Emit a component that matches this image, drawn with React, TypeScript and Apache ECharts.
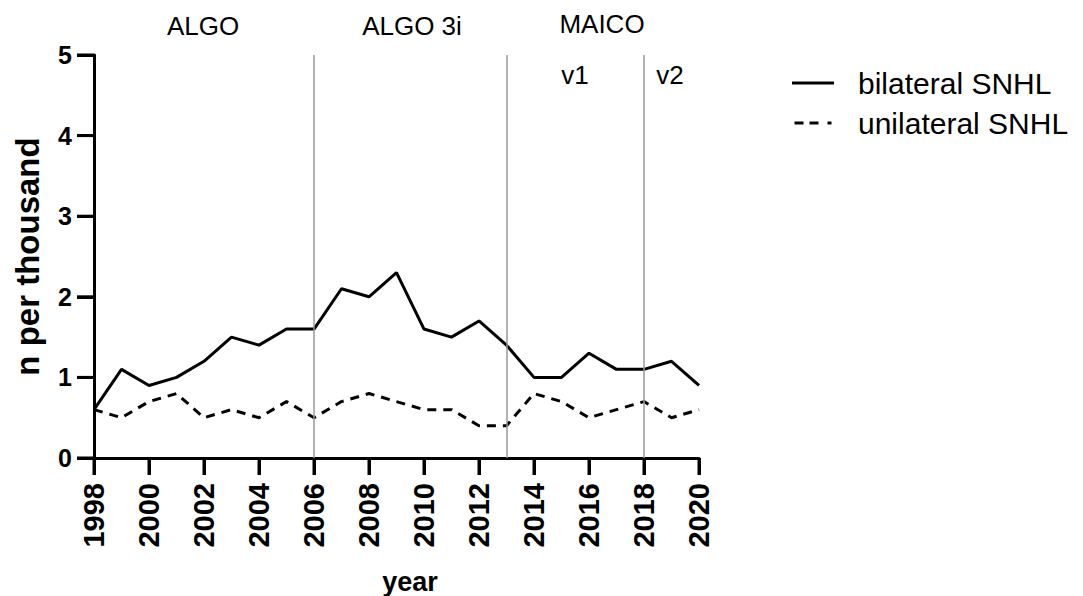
import React, { useEffect, useRef } from "react";
import * as echarts from "echarts";

const years = [1998, 1999, 2000, 2001, 2002, 2003, 2004, 2005, 2006, 2007, 2008, 2009, 2010, 2011, 2012, 2013, 2014, 2015, 2016, 2017, 2018, 2019, 2020];
const bilateral = [0.6, 1.1, 0.9, 1.0, 1.2, 1.5, 1.4, 1.6, 1.6, 2.1, 2.0, 2.3, 1.6, 1.5, 1.7, 1.4, 1.0, 1.0, 1.3, 1.1, 1.1, 1.2, 0.9];
const unilateral = [0.6, 0.5, 0.7, 0.8, 0.5, 0.6, 0.5, 0.7, 0.5, 0.7, 0.8, 0.7, 0.6, 0.6, 0.4, 0.4, 0.8, 0.7, 0.5, 0.6, 0.7, 0.5, 0.6];
const deviceChanges = [2006, 2013, 2018];
const seriesNames = ["bilateral SNHL", "unilateral SNHL"];
const xTicks = [1998, 2000, 2002, 2004, 2006, 2008, 2010, 2012, 2014, 2016, 2018, 2020];
const yTicks = [0, 1, 2, 3, 4, 5];

const FONT = "Liberation Sans, Arial, sans-serif";
const TICK_LEN = 17;

export default function App() {
  const ref = useRef<HTMLDivElement>(null);
  useEffect(() => {
    if (!ref.current) return;
    const chart = echarts.init(ref.current, null, { renderer: "svg" });
    const texts: any[] = [
      { type: "text", x: 203, y: 26, style: { text: "ALGO", fontSize: 26, fill: "#000", fontFamily: FONT, align: "center", verticalAlign: "middle" } },
      { type: "text", x: 412, y: 26, style: { text: "ALGO 3i", fontSize: 26, fill: "#000", fontFamily: FONT, align: "center", verticalAlign: "middle" } },
      { type: "text", x: 602, y: 24, style: { text: "MAICO", fontSize: 26, fill: "#000", fontFamily: FONT, align: "center", verticalAlign: "middle" } },
      { type: "text", x: 575, y: 75, style: { text: "v1", fontSize: 26, fill: "#000", fontFamily: FONT, align: "center", verticalAlign: "middle" } },
      { type: "text", x: 670, y: 75, style: { text: "v2", fontSize: 26, fill: "#000", fontFamily: FONT, align: "center", verticalAlign: "middle" } },
      { type: "text", x: 410, y: 582, style: { text: "year", fontSize: 27, fontWeight: "bold", fill: "#000", fontFamily: FONT, align: "center", verticalAlign: "middle" } },
    ];
    chart.setOption({
      animation: false,
      textStyle: { fontFamily: FONT },
      grid: { left: 94, right: 384, top: 55, bottom: 138, containLabel: false },
      legend: {
        orient: "vertical",
        left: 787,
        top: 63,
        itemWidth: 42,
        itemHeight: 3,
        itemGap: 10,
        data: [
          { name: seriesNames[0], icon: "path://M0,0h42v3h-42z" },
          { name: seriesNames[1], icon: "path://M0,0h9v3h-9zM15,0h9v3h-9zM33,0h4v3h-4z" },
        ],
        itemStyle: { color: "#000", borderWidth: 0 },
        textStyle: { fontSize: 30, lineHeight: 30, color: "#000", fontFamily: FONT, padding: [0, 0, 0, 19] },
      },
      xAxis: {
        type: "value",
        min: 1998,
        max: 2020,
        interval: 2,
        axisLine: { show: true, onZero: false, lineStyle: { color: "#000", width: 3 } },
        axisTick: { show: true, inside: false, length: TICK_LEN, lineStyle: { color: "#000", width: 3 } },
        axisLabel: {
          rotate: 90,
          margin: 25,
          fontSize: 29,
          fontWeight: "bold",
          color: "#000",
          fontFamily: FONT,
          formatter: (v: number) => String(v),
        },
        splitLine: { show: false },
      },
      yAxis: {
        type: "value",
        min: 0,
        max: 5,
        interval: 1,
        name: "n per thousand",
        nameLocation: "middle",
        nameGap: 50,
        nameRotate: 90,
        nameTextStyle: { fontSize: 33, fontWeight: "bold", color: "#000", fontFamily: FONT },
        axisLine: { show: true, onZero: false, lineStyle: { color: "#000", width: 3 } },
        axisTick: { show: true, inside: false, length: TICK_LEN, lineStyle: { color: "#000", width: 3 } },
        axisLabel: { margin: 22, fontSize: 25, fontWeight: "bold", color: "#000", fontFamily: FONT },
        splitLine: { show: false },
      },
      series: [
        {
          name: seriesNames[0],
          type: "line",
          symbol: "none",
          data: years.map((y, i) => [y, bilateral[i]]),
          lineStyle: { color: "#000", width: 3 },
          itemStyle: { color: "#000" },
          markLine: {
            silent: true,
            symbol: "none",
            label: { show: false },
            lineStyle: { color: "#9a9a9a", width: 1.5, type: "solid" },
            data: deviceChanges.map((x) => ({ xAxis: x })),
          },
          z: 3,
        },
        {
          name: seriesNames[1],
          type: "line",
          symbol: "none",
          data: years.map((y, i) => [y, unilateral[i]]),
          lineStyle: { color: "#000", width: 3, type: [9, 7] },
          itemStyle: { color: "#000" },
          z: 3,
        },
      ],
      graphic: texts,
    });

    // Tick marks positioned through the chart's own axis scales
    const tickEls: any[] = [];
    const yBase = Number(chart.convertToPixel({ yAxisIndex: 0 }, 0));
    const xBase = Number(chart.convertToPixel({ xAxisIndex: 0 }, 1998));
    xTicks.forEach((v) => {
      const px = Number(chart.convertToPixel({ xAxisIndex: 0 }, v));
      tickEls.push({
        type: "rect",
        silent: true,
        z: 100,
        shape: { x: px - 1.5, y: yBase, width: 3, height: TICK_LEN },
        style: { fill: "#000" },
      });
    });
    yTicks.forEach((v) => {
      const py = Number(chart.convertToPixel({ yAxisIndex: 0 }, v));
      tickEls.push({
        type: "rect",
        silent: true,
        z: 100,
        shape: { x: xBase - TICK_LEN, y: py - 1.5, width: TICK_LEN, height: 3 },
        style: { fill: "#000" },
      });
    });
    chart.setOption({ graphic: [...texts, ...tickEls] });

    return () => chart.dispose();
  }, []);
  return <div ref={ref} style={{ width: 1083, height: 596, position: "absolute", left: 0, top: 0 }} />;
}
